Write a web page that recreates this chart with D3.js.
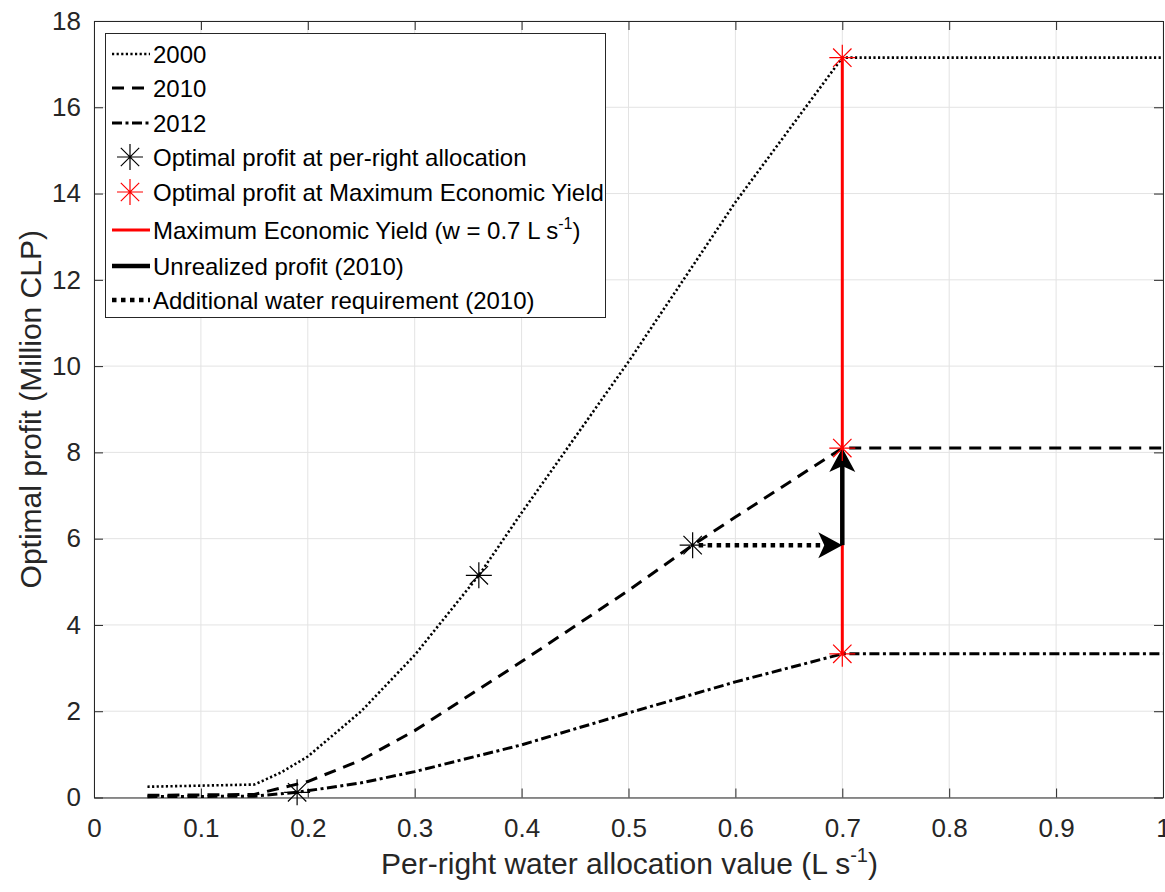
<!DOCTYPE html>
<html>
<head>
<meta charset="UTF-8">
<title>Optimal profit</title>
<script src="https://cdn.jsdelivr.net/npm/d3@7"></script>
<style>
  body { margin: 0; background: #fff; }
  svg { font-family: "Liberation Sans", Arial, Helvetica, sans-serif; }
</style>
</head>
<body>
<svg width="1165" height="892"></svg>
<script>
// per-right water allocation (L/s) vs optimal profit (million CLP)
var x2000 = [0.05, 0.15, 0.175, 0.2, 0.25, 0.3, 0.36, 0.4, 0.5, 0.6, 0.7, 1.0];
var y2000 = [0.25, 0.3, 0.58, 0.95, 2.0, 3.3, 5.15, 6.6, 10.1, 13.8, 17.15, 17.15];
var x2010 = [0.05, 0.15, 0.2, 0.25, 0.3, 0.4, 0.5, 0.56, 0.6, 0.7, 1.0];
var y2010 = [0.05, 0.07, 0.37, 0.87, 1.55, 3.15, 4.8, 5.85, 6.5, 8.1, 8.1];
var x2012 = [0.05, 0.15, 0.19, 0.25, 0.3, 0.4, 0.5, 0.6, 0.7, 1.0];
var y2012 = [0.02, 0.03, 0.12, 0.34, 0.6, 1.22, 1.96, 2.68, 3.33, 3.33];

// stars
var allocX = [0.19, 0.36, 0.56];
var allocY = [0.12, 5.15, 5.85];
var meyX = [0.7, 0.7, 0.7];
var meyY = [17.15, 8.1, 3.33];
var meyW = 0.7;

var xTicks = d3.range(0, 1.0001, 0.1);
var yTicks = d3.range(0, 18.001, 2);

var svg = d3.select("svg");
var mLeft = 94, mRight = 1163, mTop = 21, mBottom = 797.5;

var x = d3.scaleLinear().domain([0, 1]).range([mLeft, mRight]);
var y = d3.scaleLinear().domain([0, 18]).range([mBottom, mTop]);

var axisCol = "#262626";

// grid
var grid = svg.append("g");
grid.selectAll(".gx").data(xTicks).enter().append("line")
  .attr("x1", d => x(d)).attr("x2", d => x(d))
  .attr("y1", mTop).attr("y2", mBottom)
  .attr("stroke", "#e3e3e3").attr("stroke-width", 1);
grid.selectAll(".gy").data(yTicks).enter().append("line")
  .attr("x1", mLeft).attr("x2", mRight)
  .attr("y1", d => y(d)).attr("y2", d => y(d))
  .attr("stroke", "#e3e3e3").attr("stroke-width", 1);

// axes (ticks inside, box on)
function styleAxis(g) {
  g.select(".domain").attr("stroke", axisCol);
  g.selectAll(".tick line").attr("stroke", axisCol);
  g.selectAll(".tick text").attr("fill", axisCol)
    .style("font-size", "26px")
    .style("font-family", "'Liberation Sans', Arial, sans-serif");
}
var fmt = d => (d === 0 ? "0" : Math.abs(d - 1) < 1e-9 ? "1" : d3.format(".1f")(d));
svg.append("g").attr("transform", "translate(0," + mBottom + ")")
  .call(d3.axisBottom(x).tickValues(xTicks).tickFormat(fmt).tickSizeInner(-9).tickSizeOuter(0).tickPadding(21))
  .call(styleAxis);
svg.append("g").attr("transform", "translate(0," + mTop + ")")
  .call(d3.axisTop(x).tickValues(xTicks).tickFormat("").tickSizeInner(-9).tickSizeOuter(0))
  .call(styleAxis);
svg.append("g").attr("transform", "translate(" + mLeft + ",0)")
  .call(d3.axisLeft(y).tickValues(yTicks).tickSizeInner(-9).tickSizeOuter(0).tickPadding(13))
  .call(styleAxis);
svg.append("g").attr("transform", "translate(" + mRight + ",0)")
  .call(d3.axisRight(y).tickValues(yTicks).tickFormat("").tickSizeInner(-9).tickSizeOuter(0))
  .call(styleAxis);

// curves
var line = d3.line().x(d => x(d[0])).y(d => y(d[1]));
var curves = [
  {xs: x2000, ys: y2000, w: 2.6, dash: "2.2,2.4"},
  {xs: x2010, ys: y2010, w: 3, dash: "12,8"},
  {xs: x2012, ys: y2012, w: 3, dash: "10,3.5,3,3.5"}
];
svg.append("g").selectAll("path").data(curves).enter().append("path")
  .attr("d", c => line(d3.zip(c.xs, c.ys)))
  .attr("fill", "none").attr("stroke", "#000")
  .attr("stroke-width", c => c.w).attr("stroke-dasharray", c => c.dash);

// MEY vertical line
svg.append("line")
  .attr("x1", x(meyW)).attr("x2", x(meyW))
  .attr("y1", y(d3.min(meyY))).attr("y2", y(d3.max(meyY)))
  .attr("stroke", "#ff0000").attr("stroke-width", 3);

// arrows
function arrowHead(tx, ty, dx, dy) {
  // tip at (tx,ty), pointing in direction (dx,dy)
  var len = 24, half = 13, back = 6;
  var px = -dy, py = dx;
  var bx = tx - dx * len, by = ty - dy * len;
  var nx = tx - dx * (len - back), ny = ty - dy * (len - back);
  return "M" + tx + "," + ty +
    "L" + (bx + px * half) + "," + (by + py * half) +
    "L" + nx + "," + ny +
    "L" + (bx - px * half) + "," + (by - py * half) + "Z";
}
var ax0 = x(allocX[2]), ay0 = y(allocY[2]);
var ax1 = x(meyW), ay1 = y(meyY[1]);
// additional water requirement (dotted, horizontal)
svg.append("line")
  .attr("x1", ax0 + 6).attr("x2", ax1 - 16)
  .attr("y1", ay0).attr("y2", ay0)
  .attr("stroke", "#000").attr("stroke-width", 4.5).attr("stroke-dasharray", "4.5,4.5");
svg.append("path").attr("d", arrowHead(ax1, ay0, 1, 0)).attr("fill", "#000");
// unrealized profit (solid, vertical)
svg.append("line")
  .attr("x1", ax1).attr("x2", ax1)
  .attr("y1", ay0).attr("y2", ay1 + 16)
  .attr("stroke", "#000").attr("stroke-width", 4.5);
svg.append("path").attr("d", arrowHead(ax1, ay1, 0, -1)).attr("fill", "#000");

// asterisk markers
function star(g, cx, cy, col) {
  var r = 13, d = r * 0.7071;
  g.append("path")
    .attr("d", "M" + (cx - r) + "," + cy + "h" + 2 * r +
      "M" + cx + "," + (cy - r) + "v" + 2 * r +
      "M" + (cx - d) + "," + (cy - d) + "l" + 2 * d + "," + 2 * d +
      "M" + (cx - d) + "," + (cy + d) + "l" + 2 * d + "," + (-2 * d))
    .attr("stroke", col).attr("stroke-width", 1.2).attr("fill", "none");
}
var stars = svg.append("g");
allocX.forEach((v, i) => star(stars, x(v), y(allocY[i]), "#000"));
meyX.forEach((v, i) => star(stars, x(v), y(meyY[i]), "#ff0000"));

// axis labels
svg.append("text")
  .attr("x", (mLeft + mRight) / 2 + 1).attr("y", 874)
  .attr("text-anchor", "middle").attr("fill", axisCol)
  .style("font-size", "30px")
  .call(t => {
    t.append("tspan").text("Per-right water allocation value (L s");
    t.append("tspan").attr("dy", -12).style("font-size", "20px").text("-1");
    t.append("tspan").attr("dy", 12).text(")");
  });
svg.append("text")
  .attr("transform", "translate(41," + (mTop + mBottom) / 2 + ") rotate(-90)")
  .attr("text-anchor", "middle").attr("fill", axisCol)
  .style("font-size", "30px")
  .text("Optimal profit (Million CLP)");

// legend
var legend = svg.append("g");
legend.append("rect")
  .attr("x", 105.5).attr("y", 33.5).attr("width", 500).attr("height", 284)
  .attr("fill", "#fff").attr("stroke", axisCol).attr("stroke-width", 1);

var legRows = [
  {label: "2000", type: "line", w: 2.6, dash: "2.2,2.4", col: "#000", y: 54},
  {label: "2010", type: "line", w: 3, dash: "12,8", col: "#000", y: 88},
  {label: "2012", type: "line", w: 3, dash: "10,3.5,3,3.5", col: "#000", y: 123},
  {label: "Optimal profit at per-right allocation", type: "star", col: "#000", y: 157},
  {label: "Optimal profit at Maximum Economic Yield", type: "star", col: "#ff0000", y: 192},
  {label: "Maximum Economic Yield (w = 0.7 L s", sup: "-1", tail: ")", type: "line", w: 3, dash: null, col: "#ff0000", y: 230},
  {label: "Unrealized profit (2010)", type: "line", w: 4.5, dash: null, col: "#000", y: 266},
  {label: "Additional water requirement (2010)", type: "line", w: 4.5, dash: "4.5,4.5", col: "#000", y: 300}
];
legRows.forEach(r => {
  if (r.type === "line") {
    legend.append("line")
      .attr("x1", 112).attr("x2", 150).attr("y1", r.y).attr("y2", r.y)
      .attr("stroke", r.col).attr("stroke-width", r.w)
      .attr("stroke-dasharray", r.dash);
  } else {
    star(legend, 130, r.y, r.col);
  }
  var t = legend.append("text")
    .attr("x", 153).attr("y", r.y + 8.5)
    .attr("fill", "#000").style("font-size", "24px");
  t.append("tspan").text(r.label);
  if (r.sup) {
    t.append("tspan").attr("dy", -10).style("font-size", "16px").text(r.sup);
    t.append("tspan").attr("dy", 10).text(r.tail);
  }
});
</script>
</body>
</html>
